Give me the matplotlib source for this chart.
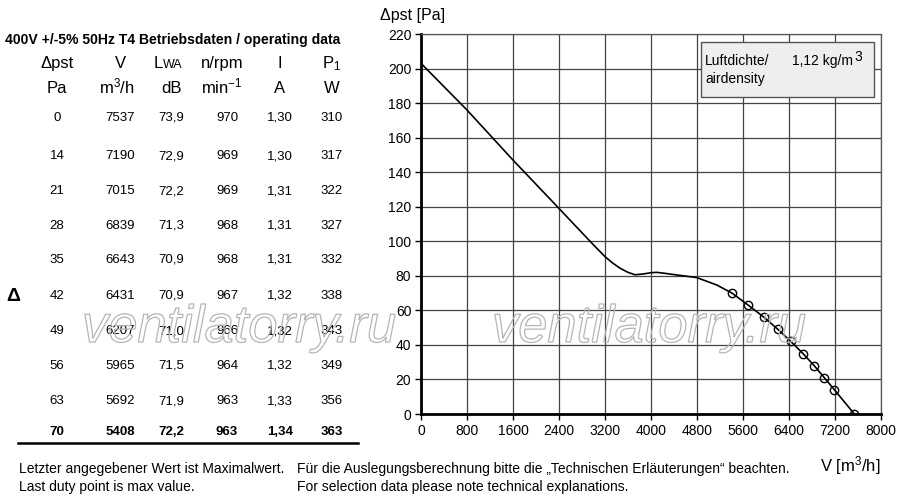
import matplotlib
matplotlib.use("Agg")
import matplotlib.pyplot as plt
from matplotlib.patches import Rectangle, PathPatch
from matplotlib.textpath import TextPath
from matplotlib.font_manager import FontProperties
from matplotlib.transforms import Affine2D

plt.rcParams['font.family'] = ['Liberation Sans', 'DejaVu Sans']
plt.rcParams['mathtext.default'] = 'regular'

# ---- data ----
dp_pa = [0, 14, 21, 28, 35, 42, 49, 56, 63, 70]
flow_m3h = [7537, 7190, 7015, 6839, 6643, 6431, 6207, 5965, 5692, 5408]
lwa_db = ["73,9", "72,9", "72,2", "71,3", "70,9", "70,9", "71,0", "71,5", "71,9", "72,2"]
rpm = [970, 969, 969, 968, 968, 967, 966, 964, 963, 963]
current_a = ["1,30", "1,30", "1,31", "1,31", "1,31", "1,32", "1,32", "1,32", "1,33", "1,34"]
power_w = [310, 317, 322, 327, 332, 338, 343, 349, 356, 363]

# fan curve for the part left of the duty points
curve_v = [0, 800, 1600, 2400, 2940, 3070, 3200, 3330, 3461, 3600, 3722, 3870, 4000, 4100,
           4250, 4447, 4795, 5143]
curve_p = [203, 176, 147, 119, 100, 95.5, 91.1, 87.5, 84.4, 82.0, 80.6, 81.1, 81.8, 82.0,
           81.4, 80.5, 79.0, 74.7]

x_ticks = [0, 800, 1600, 2400, 3200, 4000, 4800, 5600, 6400, 7200, 8000]
y_ticks = list(range(0, 221, 20))

fig = plt.figure(figsize=(9, 5), dpi=100)
W, H = 900, 500

def px(x, y):
    return x / W, 1 - y / H

# ---- chart ----
ax = fig.add_axes([421 / W, 1 - 414 / H, 460 / W, 380 / H])
ax.set_xlim(0, 8000)
ax.set_ylim(0, 220)
ax.set_xticks(x_ticks)
ax.set_yticks(y_ticks)
ax.tick_params(labelsize=10, length=4, width=1, color='black', pad=3)
ax.grid(True, color='#444444', linewidth=0.9)
ax.set_axisbelow(True)
for s in ['top', 'right']:
    ax.spines[s].set_color('#555555')
    ax.spines[s].set_linewidth(0.9)
for s in ['left', 'bottom']:
    ax.spines[s].set_color('black')
    ax.spines[s].set_linewidth(2)

dv = list(reversed(flow_m3h))
dpv = list(reversed(dp_pa))
ax.plot(curve_v + dv, curve_p + dpv, color='black', linewidth=1.2, zorder=3)
ax.plot(flow_m3h, dp_pa, linestyle='none', marker='o', markersize=6,
        markerfacecolor='none', markeredgecolor='black', markeredgewidth=1.0, zorder=4)

# legend box
fig.patches.append(Rectangle(px(701, 97), (874 - 701) / W, (97 - 42) / H,
                             transform=fig.transFigure, facecolor='#eeeeee',
                             edgecolor='#555555', linewidth=1, zorder=5))
fig.text(*px(705, 65), "Luftdichte/", fontsize=10, va='baseline', zorder=6)
fig.text(*px(792, 65), "1,12 kg/m", fontsize=10, va='baseline', zorder=6)
fig.text(*px(854, 61), "3", fontsize=10, va='baseline', zorder=6)
fig.text(*px(705, 83), "airdensity", fontsize=10, va='baseline', zorder=6)

# axis labels
fig.text(*px(380, 20), "Δpst [Pa]", fontsize=11.5, va='baseline')
fig.text(*px(880, 471), "V [m$^3$/h]", fontsize=12, va='baseline', ha='right')

# ---- table ----
fig.text(*px(5, 44), "400V +/-5% 50Hz T4 Betriebsdaten / operating data",
         fontsize=10.1, fontweight='bold', va='baseline')

col_x = [57, 120, 171, 227, 280, 332]
head_y, unit_y = 68, 93
fig.text(*px(col_x[0], head_y), "Δpst", fontsize=12, ha='center', va='baseline')
fig.text(*px(col_x[1], head_y), "V", fontsize=12, ha='center', va='baseline')
fig.text(*px(163, head_y), "L", fontsize=12, ha='right', va='baseline')
fig.text(*px(163, head_y), "WA", fontsize=9, ha='left', va='baseline')
fig.text(*px(col_x[3] - 5, head_y), "n/rpm", fontsize=12, ha='center', va='baseline')
fig.text(*px(col_x[4], head_y), "I", fontsize=12, ha='center', va='baseline')
fig.text(*px(col_x[5], head_y), "P$_1$", fontsize=12, ha='center', va='baseline')

units = ["Pa", "m$^3$/h", "dB", "min$^{-1}$", "A", "W"]
for i, u in enumerate(units):
    xx = col_x[i] - (5 if i == 3 else 0) - (3 if i == 1 else 0)
    fig.text(*px(xx, unit_y), u, fontsize=12, ha='center', va='baseline')

row_y = [121, 159, 194, 229, 263, 299, 334, 369, 404, 435]
for r in range(len(dp_pa)):
    vals = [str(dp_pa[r]), str(flow_m3h[r]), lwa_db[r], str(rpm[r]), current_a[r], str(power_w[r])]
    bold = (r == len(dp_pa) - 1)
    for i, v in enumerate(vals):
        fig.text(*px(col_x[i], row_y[r]), v, fontsize=9.5, ha='center', va='baseline',
                 fontweight='bold' if bold else 'normal')

fig.text(*px(6, 301), "Δ", fontsize=14, fontweight='bold', va='baseline')
fig.add_artist(plt.Line2D([18 / W, 358 / W], [1 - 443 / H, 1 - 443 / H],
                          transform=fig.transFigure, color='black', linewidth=1.8))

# ---- footer ----
fig.text(*px(19, 473), "Letzter angegebener Wert ist Maximalwert.", fontsize=10, va='baseline')
fig.text(*px(19, 491), "Last duty point is max value.", fontsize=10, va='baseline')
fig.text(*px(297, 473), "Für die Auslegungsberechnung bitte die „Technischen Erläuterungen“ beachten.",
         fontsize=10, va='baseline')
fig.text(*px(297, 491), "For selection data please note technical explanations.", fontsize=10, va='baseline')

# ---- watermark (outline only) ----
wm_prop = FontProperties(family='Liberation Sans', style='italic')
wm_path = TextPath((0, 0), "ventilatorry.ru", size=1, prop=wm_prop)
em_px = 52.5
for wx in [82, 492]:
    tr = Affine2D().scale(em_px / 100).translate(wx / 100, (H - 342) / 100) + fig.dpi_scale_trans
    patch = PathPatch(wm_path, transform=tr, facecolor='none', edgecolor='#b5b5b5',
                      linewidth=0.9, zorder=10)
    fig.patches.append(patch)

fig.savefig("out.png", dpi=100)
